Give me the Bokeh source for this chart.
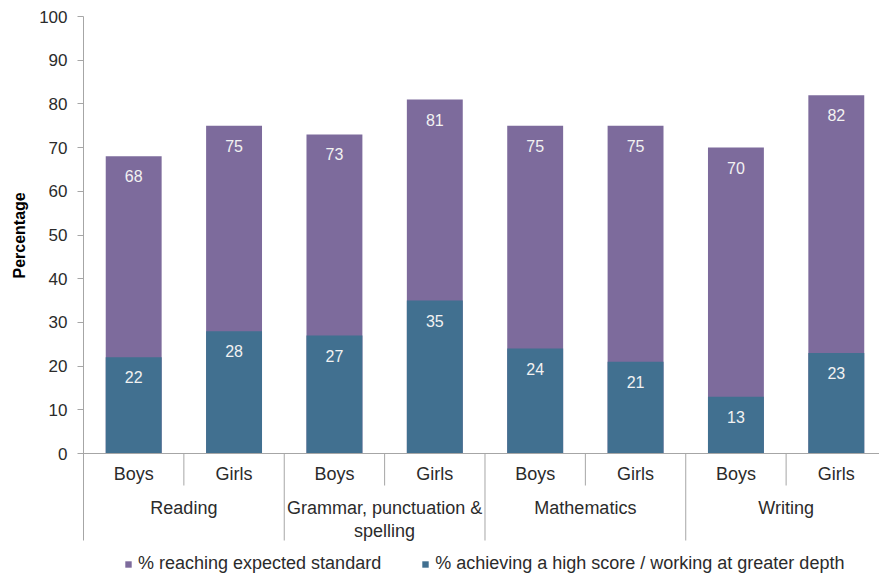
from bokeh.plotting import figure
from bokeh.models import (Range1d, FixedTicker, ColumnDataSource, Legend, LegendItem, Span, Title)
from bokeh.core.properties import value
from bokeh.embed import file_html
from bokeh.resources import INLINE

# ---- data ----
subjects = ["Reading", "Grammar, punctuation &\nspelling", "Mathematics", "Writing"]
sexes = ["Boys", "Girls"]
expected = [68, 75, 73, 81, 75, 75, 70, 82]
high = [22, 28, 27, 35, 24, 21, 13, 23]
y_ticks = [0, 10, 20, 30, 40, 50, 60, 70, 80, 90, 100]

PURPLE = "#7d6b9c"
TEAL = "#417090"
TXT = "#2b2b2b"
AXC = "#a6a6a6"
FONT = "Liberation Sans"

W, H = 879, 579
LEFT, TOP = 82, 16
PLOT_H = 437                    # pixels spanned by 0..100
PX = 100.0 / PLOT_H             # data units per pixel
ymin = -(H - TOP - PLOT_H) * PX
CAT_W = 100.5                   # pixels per category
xmax = (W - LEFT) / CAT_W

n = len(expected)
xs = [i + 0.5 for i in range(n)]
sex_lab = [sexes[i % 2] for i in range(n)]
grp_x = [2 * j + 1 for j in range(len(subjects))]

src = ColumnDataSource(dict(x=xs, expected=expected, high=high,
                            exp_txt=[str(v) for v in expected],
                            high_txt=[str(v) for v in high],
                            sex=sex_lab, zero=[0] * n))
gsrc = ColumnDataSource(dict(x=grp_x, name=subjects, zero=[0] * len(subjects)))

p = figure(width=W, height=H, output_backend="svg", toolbar_location=None,
           x_range=Range1d(0, xmax), y_range=Range1d(ymin, 100),
           min_border_left=LEFT, min_border_right=0, min_border_top=TOP,
           min_border_bottom=0)
p.outline_line_color = None
p.xgrid.visible = False
p.ygrid.visible = False
p.xaxis.visible = False
p.background_fill_color = "white"
p.border_fill_color = "white"

r1 = p.vbar(x="x", top="expected", width=0.557, source=src, fill_color=PURPLE, line_color=None)
r2 = p.vbar(x="x", top="high", width=0.557, source=src, fill_color=TEAL, line_color=None)

# value labels
for col, txt in (("expected", "exp_txt"), ("high", "high_txt")):
    p.text(x="x", y=col, text=txt, source=src, y_offset=20,
           text_align="center", text_baseline="middle",
           text_color="#f2f2f2", text_font=value(FONT), text_font_size="16px")

# category axis (drawn through the data scales)
p.add_layout(Span(location=0, dimension="width", line_color=AXC, line_width=1))
minor_b = [1, 3, 5, 7]
major_b = [2, 4, 6, 8]
p.segment(x0=minor_b, x1=minor_b, y0=[0] * 4, y1=[-32 * PX] * 4, line_color=AXC, line_width=1)
p.segment(x0=major_b, x1=major_b, y0=[0] * 4, y1=[-87 * PX] * 4, line_color=AXC, line_width=1)

p.text(x="x", y="zero", text="sex", source=src, y_offset=20,
       text_align="center", text_baseline="middle",
       text_color=TXT, text_font=value(FONT), text_font_size="18px")
p.text(x="x", y="zero", text="name", source=gsrc, y_offset=44,
       text_align="center", text_baseline="top", text_line_height=1.15,
       text_color=TXT, text_font=value(FONT), text_font_size="18px")

# y axis
ya = p.yaxis[0]
ya.ticker = FixedTicker(ticks=y_ticks)
ya.bounds = (-87 * PX, 100)
ya.major_tick_out = 6
ya.major_tick_in = 0
ya.minor_tick_out = 0
ya.minor_tick_in = 0
ya.axis_line_color = AXC
ya.major_tick_line_color = AXC
ya.major_label_text_font = FONT
ya.major_label_text_font_size = "17px"
ya.major_label_text_color = TXT
ya.major_label_standoff = 10

ytitle = Title(text="Percentage", align="left", offset=301, standoff=17,
               text_font=FONT, text_font_size="16px", text_font_style="bold",
               text_color="#000000")
p.add_layout(ytitle, "left")

legend = Legend(items=[LegendItem(label="% reaching expected standard", renderers=[r1]),
                       LegendItem(label="% achieving a high score / working at greater depth", renderers=[r2])],
                orientation="horizontal", location=(41, 5),
                glyph_width=8, glyph_height=8, label_height=16, label_standoff=6,
                spacing=40, padding=0, margin=0, border_line_color=None,
                background_fill_alpha=0,
                label_text_font=FONT, label_text_font_size="18px", label_text_color=TXT)
p.add_layout(legend, "center")

open("out.html", "w").write(file_html(p, INLINE))
